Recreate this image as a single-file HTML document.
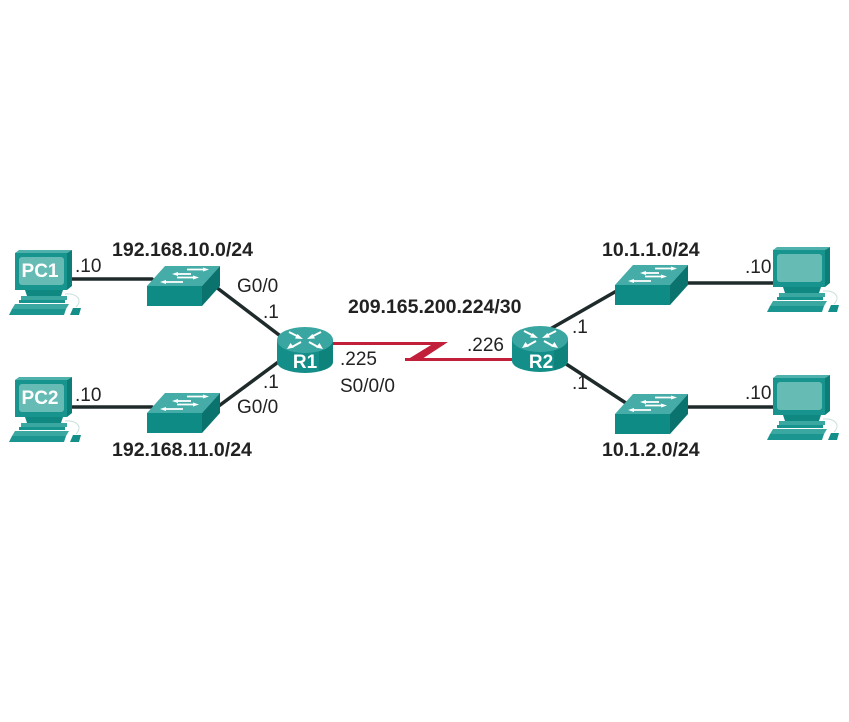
<!DOCTYPE html>
<html><head><meta charset="utf-8"><style>
html,body{margin:0;padding:0;background:#fff;}
svg{display:block;}
text{font-family:"Liberation Sans",Arial,sans-serif;fill:#222;}
.b{font-weight:bold;font-size:19.5px;}
.r{font-size:19px;}
.w{fill:#fff;font-weight:bold;font-size:19px;}
</style></head><body>
<svg width="849" height="722" viewBox="0 0 849 722" xmlns="http://www.w3.org/2000/svg">
<defs>
  <g id="pc">
    <polygon points="0,3 4,0 57,0 52,3" fill="#4fb1ab"/>
    <rect x="0" y="3" width="52" height="37" fill="#17948e"/>
    <polygon points="52,3 57,0 57,36 52,40" fill="#0c7d77"/>
    <rect x="4" y="7" width="45" height="28" rx="3" fill="#66bcb5"/>
    <polygon points="10,40 48,40 46,46 12,46" fill="#0f8882"/>
    <rect x="6" y="46" width="46" height="4" fill="#3aa7a1"/>
    <rect x="4" y="50" width="46" height="3" fill="#17948e"/>
    <polygon points="0,54 54,54 51,59 -3,59" fill="#3aa7a1"/>
    <polygon points="-3,59 51,59 49,65 -6,65" fill="#1a958f"/>
    <polygon points="58,58 66,58 64,65 55,65" fill="#138e88"/>
    <path d="M50,44 C62,43 68,50 61,57" stroke="#c8dedc" stroke-width="1" fill="none"/>
  </g>
  <g id="sw">
    <polygon points="0,20 18,0 73,0 55,20" fill="#45aca7"/>
    <rect x="0" y="20" width="55" height="20" fill="#0f8b85"/>
    <polygon points="55,20 73,0 73,20 55,40" fill="#0a736e"/>
    <g stroke="#fff" stroke-width="1.8" fill="#fff">
      <line x1="40" y1="3.5" x2="58" y2="3.5"/><polygon points="62,3.5 56,1.5 56,5.5" stroke="none"/>
      <line x1="30" y1="8" x2="44" y2="8"/><polygon points="25,8 31,6 31,10" stroke="none"/>
      <line x1="30" y1="11.5" x2="48" y2="11.5"/><polygon points="52,11.5 46,9.5 46,13.5" stroke="none"/>
      <line x1="18" y1="16" x2="36" y2="16"/><polygon points="13,16 19,14 19,18" stroke="none"/>
    </g>
  </g>
  <g id="rt">
    <path d="M0,13 L0,35 A28,11 0 0 0 56,35 L56,13 Z" fill="#138e88"/>
    <path d="M42,13 L56,13 L56,35 A28,11 0 0 1 42,44 Z" fill="#0c7b75" opacity="0.6"/>
    <ellipse cx="28" cy="13" rx="28" ry="13" fill="#3aa6a1"/>
    <g stroke="#fff" stroke-width="2" fill="#fff">
      <line x1="12" y1="5" x2="22" y2="10"/><polygon points="26,12 18,11.5 20.5,7" stroke="none"/>
      <line x1="44" y1="5" x2="34" y2="10"/><polygon points="30,12 38,11.5 35.5,7" stroke="none"/>
      <line x1="24" y1="15" x2="15" y2="20"/><polygon points="10,22 13.5,16 17,20.5" stroke="none"/>
      <line x1="32" y1="15" x2="41" y2="20"/><polygon points="46,22 42.5,16 39,20.5" stroke="none"/>
    </g>
  </g>
</defs>

<!-- links -->
<g stroke="#1f2b2b" stroke-width="3.5" stroke-linecap="round">
  <line x1="70" y1="279" x2="152" y2="279"/>
  <line x1="70" y1="407" x2="152" y2="407"/>
  <line x1="212" y1="284" x2="287" y2="341"/>
  <line x1="212" y1="411" x2="285" y2="357"/>
  <line x1="545" y1="332" x2="620" y2="289"/>
  <line x1="560" y1="360" x2="632" y2="407"/>
  <line x1="683" y1="283" x2="778" y2="283"/>
  <line x1="683" y1="407" x2="778" y2="407"/>
</g>
<!-- serial -->
<g fill="#c21f3b">
  <rect x="330" y="342" width="114" height="3"/>
  <polygon points="436,342 448,342 419,361 405,361"/>
  <rect x="405" y="358" width="112" height="3"/>
</g>

<!-- devices -->
<use href="#pc" x="15" y="250"/>
<use href="#pc" x="15" y="377"/>
<use href="#pc" x="773" y="247"/>
<use href="#pc" x="773" y="375"/>
<text class="w" x="40" y="277" text-anchor="middle">PC1</text>
<text class="w" x="40" y="404" text-anchor="middle">PC2</text>

<use href="#sw" x="147" y="266"/>
<use href="#sw" x="147" y="393"/>
<use href="#sw" x="615" y="265"/>
<use href="#sw" x="615" y="394"/>

<use href="#rt" x="277" y="327"/>
<use href="#rt" x="512" y="326"/>
<text class="w" x="305" y="368" text-anchor="middle">R1</text>
<text class="w" x="541" y="368" text-anchor="middle">R2</text>

<!-- labels -->
<text class="b" x="112" y="256">192.168.10.0/24</text>
<text class="b" x="112" y="456">192.168.11.0/24</text>
<text class="b" x="348" y="313">209.165.200.224/30</text>
<text class="b" x="602" y="256">10.1.1.0/24</text>
<text class="b" x="602" y="456">10.1.2.0/24</text>

<text class="r" x="75" y="272">.10</text>
<text class="r" x="75" y="401">.10</text>
<text class="r" x="237" y="292">G0/0</text>
<text class="r" x="263" y="318">.1</text>
<text class="r" x="263" y="388">.1</text>
<text class="r" x="237" y="413">G0/0</text>
<text class="r" x="340" y="365">.225</text>
<text class="r" x="340" y="392">S0/0/0</text>
<text class="r" x="467" y="351">.226</text>
<text class="r" x="572" y="333">.1</text>
<text class="r" x="572" y="389">.1</text>
<text class="r" x="745" y="273">.10</text>
<text class="r" x="745" y="399">.10</text>
</svg>
</body></html>
